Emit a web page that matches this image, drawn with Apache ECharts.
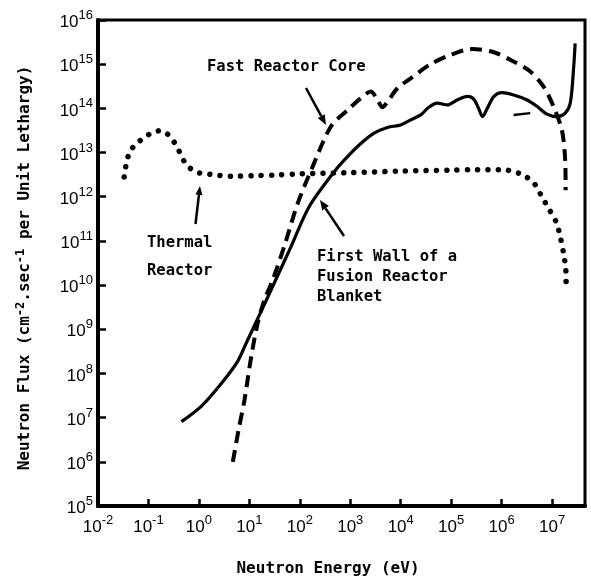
<!DOCTYPE html>
<html>
<head>
<meta charset="utf-8">
<script src="https://cdn.jsdelivr.net/npm/echarts@6/dist/echarts.min.js"></script>
<style>
  html, body { margin: 0; padding: 0; background: #fff; }
  #chart { width: 591px; height: 580px; }
</style>
</head>
<body>
<div id="chart"></div>
<script>
// Neutron spectra: energy in eV, flux per unit lethargy in cm^-2 s^-1

// Thermal reactor (dotted)
const thermalEnergy = [0.033, 0.0355, 0.040, 0.048, 0.063, 0.081, 0.11, 0.162, 0.23, 0.30, 0.37, 0.44, 0.53, 0.71,
  1.07, 1.7, 4.5, 12, 32, 100, 1000, 1e4, 1e5, 2.6e5, 1.1e6, 1.7e6, 2.7e6, 4.5e6, 6.1e6, 8.4e6, 1.2e7, 1.47e7,
  1.7e7, 1.87e7, 1.9e7];
const thermalFlux = [2.8e12, 4.8e12, 8.5e12, 1.26e13, 1.74e13, 2.1e13, 2.7e13, 3.1e13, 2.7e13, 1.95e13, 1.32e13,
  8.9e12, 5.9e12, 4.2e12, 3.4e12, 3.2e12, 2.9e12, 3.0e12, 3.1e12, 3.3e12, 3.5e12, 3.8e12, 4.0e12, 4.1e12, 4.1e12,
  3.7e12, 3.1e12, 1.95e12, 1.07e12, 5.6e11, 2.7e11, 1.17e11, 5.1e10, 2.3e10, 1.17e10];

// Fast reactor core (dashed)
const fastEnergy = [4.7, 6.1, 8.0, 10.9, 14.7, 19.9, 29, 49, 91, 180, 414, 885, 1620, 2550, 3470, 4350, 5460, 8610,
  1.58e4, 3.9e4, 9.7e4, 2.6e5, 7.0e5, 1.73e6, 3.7e6, 6.8e6, 1.07e7, 1.57e7, 1.82e7, 1.86e7];
const fastFlux = [1.0e6, 5.2e6, 2.5e7, 2.4e8, 1.4e9, 4.6e9, 1.3e10, 7.4e10, 7.1e11, 4.8e12, 3.9e13, 9.1e13, 1.7e14,
  2.4e14, 1.55e14, 1.06e14, 1.41e14, 2.85e14, 4.8e14, 1.0e15, 1.62e15, 2.2e15, 1.86e15, 1.15e15, 6.8e14, 3.1e14,
  1.1e14, 3.2e13, 6.8e12, 1.4e12];

// First wall of a fusion reactor blanket (solid)
const wallEnergy = [0.45, 1.11, 3.0, 5.9, 9.3, 17, 31, 67, 154, 519, 885, 1620, 2965, 5460, 1.0e4, 1.58e4, 2.5e4,
  3.6e4, 5.3e4, 8.4e4, 1.32e5, 2.1e5, 2.8e5, 3.5e5, 4.2e5, 5.2e5, 7.0e5, 1.02e6, 1.73e6, 3.2e6, 5.0e6, 7.9e6,
  1.25e7, 1.82e7, 2.3e7, 2.66e7, 2.87e7];
const wallFlux = [8.1e6, 1.8e7, 6.6e7, 1.9e8, 5.8e8, 2.5e9, 1.1e10, 7.4e10, 6.0e11, 4.1e12, 8.1e12, 1.6e13, 2.75e13,
  3.7e13, 4.2e13, 5.5e13, 7.1e13, 1.06e14, 1.32e14, 1.2e14, 1.55e14, 1.86e14, 1.62e14, 1.0e14, 6.5e13, 1.0e14,
  1.84e14, 2.26e14, 2.0e14, 1.55e14, 1.12e14, 7.4e13, 6.5e13, 7.8e13, 1.32e14, 7.4e14, 2.95e15];

// Short solid stroke near 10 MeV
const wallStubEnergy = [1.73e6, 3.7e6];
const wallStubFlux = [7.1e13, 7.8e13];

// Axis decades (tick labels are 10^n)
const xExponents = [-2, -1, 0, 1, 2, 3, 4, 5, 6, 7];
const yExponents = [5, 6, 7, 8, 9, 10, 11, 12, 13, 14, 15, 16];
const xMax = 4.5e7;

const pairs = (xs, ys) => xs.map((x, i) => [x, ys[i]]);
const decades = exps => exps.map(e => Math.pow(10, e));

const monoFont = '"DejaVu Sans Mono", monospace';
const tickFont = '"Liberation Sans", Arial, sans-serif';

const powerRich = {
  b: { fontFamily: tickFont, fontSize: 17, color: '#000', verticalAlign: 'bottom' },
  s: { fontFamily: tickFont, fontSize: 13, color: '#000', verticalAlign: 'bottom', padding: [0, 0, 9, 0] }
};
const powerFormatter = v => '{b|10}{s|' + Math.round(Math.log10(v)) + '}';

function arrow(x1, y1, x2, y2, head, half) {
  const dx = x2 - x1, dy = y2 - y1, len = Math.hypot(dx, dy);
  const ux = dx / len, uy = dy / len;
  const bx = x2 - ux * head, by = y2 - uy * head;
  return {
    type: 'group',
    children: [
      { type: 'line', shape: { x1, y1, x2: bx, y2: by }, style: { stroke: '#000', lineWidth: 2.5 } },
      { type: 'polygon', shape: { points: [[x2, y2], [bx - uy * half, by + ux * half], [bx + uy * half, by - ux * half]] },
        style: { fill: '#000' } }
    ]
  };
}

function label(text, x, y) {
  return { type: 'text', x, y, style: { text, fontFamily: monoFont, fontSize: 15.5, fontWeight: 'bold', fill: '#000',
    textAlign: 'left', textVerticalAlign: 'middle' } };
}

const chart = echarts.init(document.getElementById('chart'), null, { renderer: 'canvas' });
chart.setOption({
  animation: false,
  backgroundColor: '#fff',
  grid: { left: 98, right: 6, top: 20, bottom: 74, show: true, borderColor: '#000', borderWidth: 3 },
  xAxis: {
    type: 'log', logBase: 10,
    min: Math.pow(10, xExponents[0]), max: xMax,
    axisLine: { lineStyle: { color: '#000', width: 4 } },
    axisTick: { inside: true, length: 7, lineStyle: { color: '#000', width: 2.5 }, customValues: decades(xExponents) },
    minorTick: { show: false },
    splitLine: { show: false },
    axisLabel: { margin: 8, formatter: powerFormatter, rich: powerRich, customValues: decades(xExponents) }
  },
  yAxis: {
    type: 'log', logBase: 10,
    min: Math.pow(10, yExponents[0]), max: Math.pow(10, yExponents[yExponents.length - 1]),
    axisLine: { lineStyle: { color: '#000', width: 4 } },
    axisTick: { inside: true, length: 8, lineStyle: { color: '#000', width: 2.5 }, customValues: decades(yExponents) },
    minorTick: { show: false },
    splitLine: { show: false },
    axisLabel: { margin: 5, formatter: powerFormatter, rich: powerRich, customValues: decades(yExponents) }
  },
  series: [
    {
      name: 'Thermal Reactor', type: 'line', showSymbol: false, smooth: 0.3,
      data: pairs(thermalEnergy, thermalFlux),
      lineStyle: { color: '#000', width: 5.5, type: [0.01, 10.3], cap: 'round' }
    },
    {
      name: 'Fast Reactor Core', type: 'line', showSymbol: false, smooth: 0.3,
      data: pairs(fastEnergy, fastFlux),
      lineStyle: { color: '#000', width: 4, type: [12, 7] }
    },
    {
      name: 'First Wall of a Fusion Reactor Blanket', type: 'line', showSymbol: false, smooth: 0.3,
      data: pairs(wallEnergy, wallFlux),
      lineStyle: { color: '#000', width: 3.2 }
    },
    {
      name: 'First Wall stroke', type: 'line', showSymbol: false,
      data: pairs(wallStubEnergy, wallStubFlux),
      lineStyle: { color: '#000', width: 2.5 }
    }
  ],
  graphic: [
    label('Fast Reactor Core', 207, 67),
    arrow(306, 88, 326, 125, 10, 4),
    label('Thermal', 147, 243),
    label('Reactor', 147, 271),
    arrow(195.5, 224, 200, 186, 9, 3.5),
    label('First Wall of a', 317, 257),
    label('Fusion Reactor', 317, 277),
    label('Blanket', 317, 297),
    arrow(344, 236, 320, 200, 10, 4),
    {
      type: 'text', x: 328, y: 569,
      style: { text: 'Neutron Energy (eV)', fontFamily: monoFont, fontSize: 16, fontWeight: 'bold', fill: '#000',
        textAlign: 'center', textVerticalAlign: 'middle' }
    },
    {
      type: 'text', x: 25, y: 268, rotation: Math.PI / 2,
      style: {
        text: 'Neutron Flux (cm{s|-2}.sec{s|-1} per Unit Lethargy)',
        fontFamily: monoFont, fontSize: 16, fontWeight: 'bold', fill: '#000',
        textAlign: 'center', textVerticalAlign: 'middle',
        rich: {
          s: { fontFamily: monoFont, fontSize: 12, fontWeight: 'bold', fill: '#000', verticalAlign: 'bottom', padding: [0, 0, 9, 0] }
        }
      }
    }
  ]
});
</script>
</body>
</html>
